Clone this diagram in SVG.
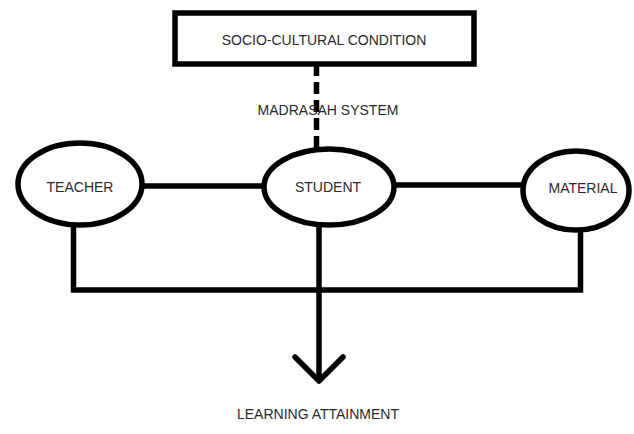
<svg xmlns="http://www.w3.org/2000/svg" width="634" height="434" viewBox="0 0 634 434">
  <style>
    .shape { fill: #ffffff; stroke: #000000; stroke-width: 5.5; }
    .link { fill: none; stroke: #000000; stroke-width: 5.5; }
    .label { font-family: "Liberation Sans", Arial, sans-serif; font-size: 14px; fill: #2a2a2a; text-anchor: middle; }
  </style>
  <rect width="634" height="434" fill="#ffffff"/>

  <g id="connectors">
    <!-- dashed link from the condition box down to the student -->
    <line class="link" x1="316.5" y1="64" x2="316.5" y2="150" stroke-width="6" stroke-dasharray="12 6"/>
    <!-- horizontal links between the three ellipses -->
    <line class="link" x1="140" y1="186" x2="266" y2="186"/>
    <line class="link" x1="392" y1="185" x2="524" y2="185"/>
    <!-- bracket collecting teacher and material -->
    <polyline class="link" points="73.5,224 73.5,290 580.5,290 580.5,229"/>
    <!-- student down to the outcome arrow -->
    <line class="link" x1="319" y1="224" x2="319" y2="380"/>
    <polyline class="link" points="295,357 319,381 343,357" stroke-linecap="round" stroke-linejoin="round"/>
  </g>

  <g id="socio-cultural-condition">
    <rect class="shape" x="175" y="13" width="299" height="51" stroke-width="6"/>
    <text class="label" x="324" y="45" font-size="15">SOCIO-CULTURAL CONDITION</text>
  </g>

  <g id="madrasah-system">
    <text class="label" x="328" y="115" font-size="14.5">MADRASAH SYSTEM</text>
  </g>

  <g id="teacher">
    <ellipse class="shape" cx="80" cy="184" rx="62" ry="41"/>
    <text class="label" x="80" y="192">TEACHER</text>
  </g>

  <g id="student">
    <ellipse class="shape" cx="329" cy="187" rx="65" ry="38"/>
    <text class="label" x="328" y="192">STUDENT</text>
  </g>

  <g id="material">
    <ellipse class="shape" cx="576" cy="190.5" rx="53" ry="39.5"/>
    <text class="label" x="583" y="193">MATERIAL</text>
  </g>

  <g id="learning-attainment">
    <text class="label" x="318" y="419">LEARNING ATTAINMENT</text>
  </g>
</svg>
